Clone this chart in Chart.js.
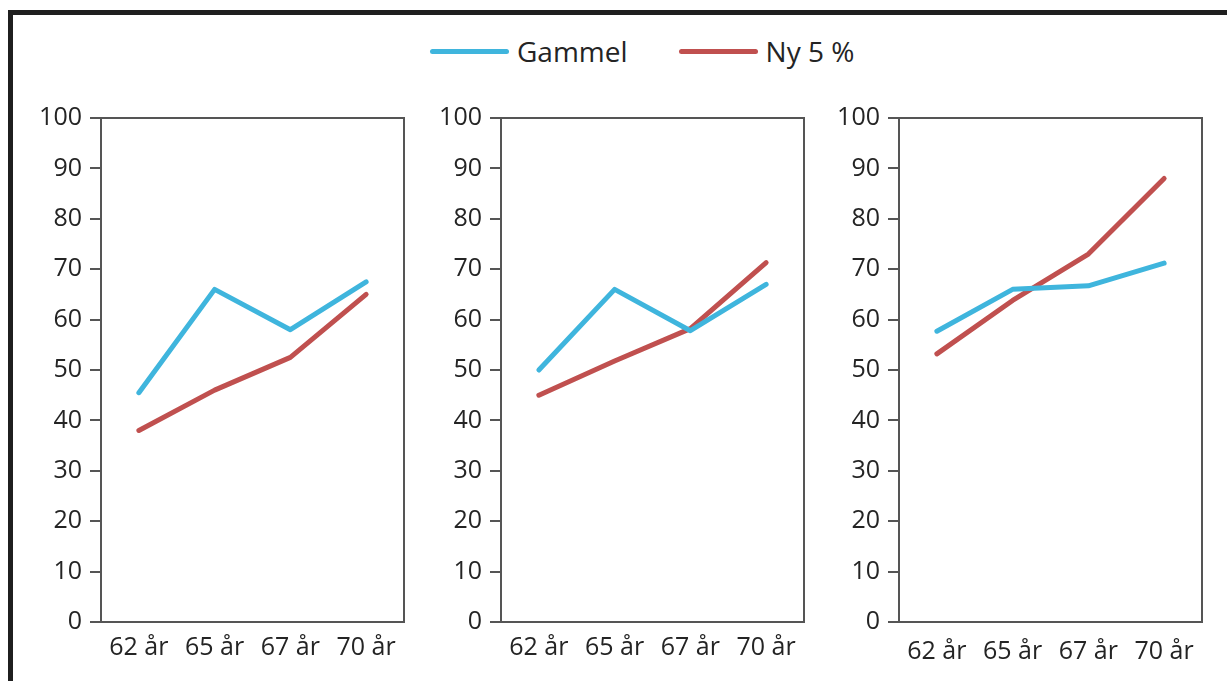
<!DOCTYPE html>
<html lang="no">
<head>
<meta charset="utf-8">
<title>Gammel vs Ny 5 %</title>
<script src="https://cdn.jsdelivr.net/npm/chart.js@4.4.1/dist/chart.umd.min.js"></script>
<style>
  html, body { margin: 0; padding: 0; background: #fff; overflow: hidden; }
  body { width: 1227px; height: 681px; position: relative; font-family: 'Open Sans', sans-serif; }
  #ramme {
    position: absolute; left: 8px; top: 10px; right: -20px; bottom: -20px;
    border-top: 5px solid #1f1f1f; border-left: 5px solid #1f1f1f;
  }
  canvas { position: absolute; top: 0; }
  #legende {
    position: absolute; left: 430px; top: 31px; height: 40px;
    display: flex; align-items: center; color: #242424; font-size: 28px;
  }
  #legende .item { display: flex; align-items: center; margin-right: 51px; }
  #legende .strek { width: 79px; height: 5px; border-radius: 3px; margin-right: 8px; }
</style>
</head>
<body>
<div id="ramme"></div>
<div id="legende"></div>
<canvas id="panel1" width="418" height="681" style="left:6px"></canvas>
<canvas id="panel2" width="418" height="681" style="left:406px"></canvas>
<canvas id="panel3" width="418" height="681" style="left:804px"></canvas>

<script>
// kategorier og verdier lest av figuren
const categories = ['62 år', '65 år', '67 år', '70 år'];
const seriesNames = ['Gammel', 'Ny 5 %'];
const seriesColors = ['#3fb5dd', '#c0504f'];

const panel1Gammel = [45.5, 66.0, 58.0, 67.5];
const panel1Ny = [38.0, 46.0, 52.5, 65.0];

const panel2Gammel = [50.0, 66.0, 57.8, 67.0];
const panel2Ny = [45.0, 51.8, 58.2, 71.3];

const panel3Gammel = [57.7, 66.0, 66.7, 71.2];
const panel3Ny = [53.2, 63.8, 73.0, 88.0];

const yTicks = [0, 10, 20, 30, 40, 50, 60, 70, 80, 90, 100];

const axisColor = '#555';
const textColor = '#242424';

// ramme rundt plottområdet (topp og høyre side også)
const plotBox = {
  id: 'plotBox',
  afterDatasetsDraw(chart) {
    const a = chart.chartArea;
    const ctx = chart.ctx;
    ctx.save();
    ctx.strokeStyle = axisColor;
    ctx.lineWidth = 2;
    ctx.strokeRect(a.left, a.top, a.right - a.left, a.bottom - a.top);
    ctx.restore();
  }
};

// lager legenden som html ut fra datasettene
const htmlLegend = {
  id: 'htmlLegend',
  afterUpdate(chart) {
    const box = document.getElementById('legende');
    box.innerHTML = '';
    chart.data.datasets.forEach(ds => {
      const item = document.createElement('div');
      item.className = 'item';
      const strek = document.createElement('span');
      strek.className = 'strek';
      strek.style.background = ds.borderColor;
      const tekst = document.createElement('span');
      tekst.textContent = ds.label;
      item.appendChild(strek);
      item.appendChild(tekst);
      box.appendChild(item);
    });
  }
};

function makeDataset(i, values) {
  return {
    label: seriesNames[i],
    data: values,
    borderColor: seriesColors[i],
    backgroundColor: seriesColors[i],
    borderWidth: 5,
    pointRadius: 0,
    tension: 0,
    borderCapStyle: 'round',
    borderJoinStyle: 'round'
  };
}

function makePanel(id, gammel, ny, labelPad, extraPlugins) {
  const ctx = document.getElementById(id).getContext('2d');
  return new Chart(ctx, {
    type: 'line',
    data: {
      labels: categories,
      datasets: [makeDataset(0, gammel), makeDataset(1, ny)]
    },
    options: {
      responsive: false,
      animation: false,
      layout: { padding: { top: 118, right: 20, bottom: 0, left: 0 } },
      plugins: {
        legend: { display: false },
        tooltip: { enabled: false }
      },
      scales: {
        x: {
          offset: true,
          grid: { display: false, drawTicks: false },
          border: { display: true, color: axisColor, width: 2 },
          ticks: {
            color: textColor,
            font: { family: 'Open Sans', size: 25 },
            padding: labelPad,
            maxRotation: 0,
            autoSkip: false
          },
          afterFit(scale) { scale.height = 59; }
        },
        y: {
          min: 0,
          max: 100,
          afterBuildTicks(scale) { scale.ticks = yTicks.map(v => ({ value: v })); },
          grid: {
            drawOnChartArea: false,
            drawTicks: true,
            tickLength: 11,
            color: axisColor,
            lineWidth: 2
          },
          border: { display: true, color: axisColor, width: 2 },
          ticks: {
            color: textColor,
            font: { family: 'Open Sans', size: 25 },
            padding: 8
          },
          afterFit(scale) { scale.width = 95; }
        }
      }
    },
    plugins: [plotBox].concat(extraPlugins || [])
  });
}

makePanel('panel1', panel1Gammel, panel1Ny, 11);
makePanel('panel2', panel2Gammel, panel2Ny, 11, [htmlLegend]);
makePanel('panel3', panel3Gammel, panel3Ny, 15);
</script>
</body>
</html>
